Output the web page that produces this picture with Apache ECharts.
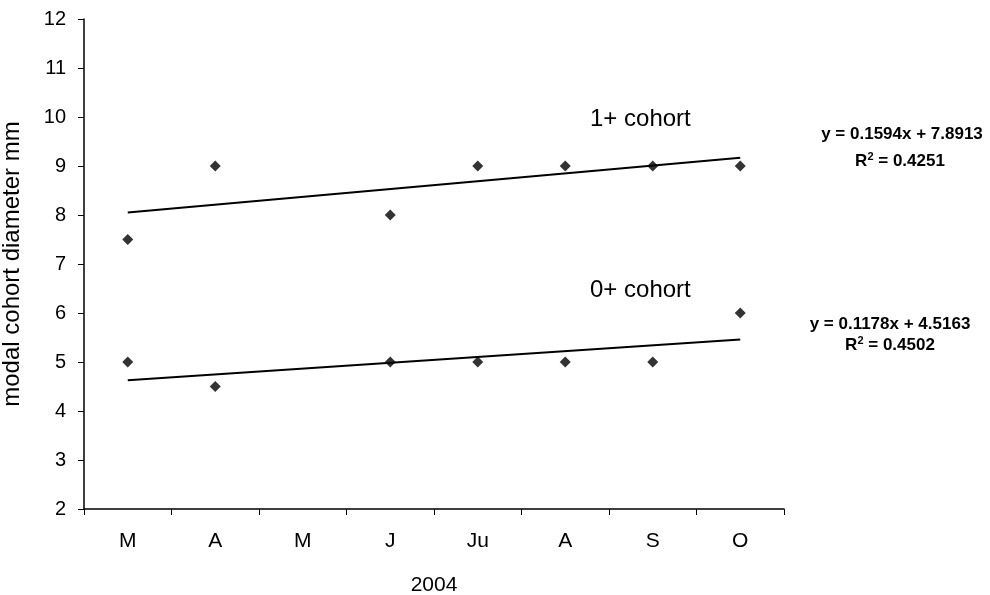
<!DOCTYPE html>
<html><head><meta charset="utf-8">
<script src="https://cdn.jsdelivr.net/npm/echarts@6/dist/echarts.min.js"></script>
<style>html,body{margin:0;padding:0;background:#fff}#c{width:990px;height:595px}</style>
</head><body><div id="c"></div>
<script>
const months = ['M','A','M','J','Ju','A','S','O'];
const cohort1 = [7.5, 9, null, 8, 9, 9, 9, 9];
const cohort0 = [5, 4.5, null, 5, 5, 5, 5, 6];
const trend1 = [[0, 8.05], [7, 9.17]];
const trend0 = [[0, 4.63], [7, 5.46]];
const yTicks = {min: 2, max: 12, interval: 1};
const eq1 = ['y = 0.1594x + 7.8913', 'R{s|2} = 0.4251'];
const eq0 = ['y = 0.1178x + 4.5163', 'R{s|2} = 0.4502'];

const FONT = 'Liberation Sans, Arial, sans-serif';
const chart = echarts.init(document.getElementById('c'));
const eqRich = {s: {fontSize: 11, fontWeight: 'bold', fontFamily: FONT, padding: [0,0,8,0]}};
chart.setOption({
  animation: false,
  backgroundColor: '#fff',
  grid: {left: 84, right: 206, top: 19, bottom: 86, containLabel: false, outerBoundsMode: 'none'},
  xAxis: {
    type: 'category', data: months, boundaryGap: true,
    name: '2004', nameLocation: 'middle', nameGap: 66,
    nameTextStyle: {color: '#000', fontSize: 21, fontFamily: FONT},
    axisLine: {lineStyle: {color: '#000', width: 1.5}},
    axisTick: {show: true, alignWithLabel: false, length: 6, lineStyle: {color: '#000'}},
    axisLabel: {color: '#000', fontSize: 21, fontFamily: FONT, margin: 22},
    splitLine: {show: false}
  },
  yAxis: {
    type: 'value', min: yTicks.min, max: yTicks.max, interval: yTicks.interval,
    name: 'modal cohort diameter mm', nameLocation: 'middle', nameGap: 60, nameRotate: 90,
    nameTextStyle: {color: '#000', fontSize: 24, fontFamily: FONT},
    axisLine: {show: true, lineStyle: {color: '#000', width: 1.5}},
    axisTick: {show: true, length: 6, lineStyle: {color: '#000'}},
    axisLabel: {color: '#000', fontSize: 20, fontFamily: FONT, margin: 18},
    splitLine: {show: false}
  },
  series: [
    {type: 'line', data: trend1, symbol: 'none', lineStyle: {color: '#000', width: 2}, silent: true},
    {type: 'line', data: trend0, symbol: 'none', lineStyle: {color: '#000', width: 2}, silent: true},
    {type: 'scatter', data: cohort1, symbol: 'diamond', symbolSize: 11, itemStyle: {color: '#000'}},
    {type: 'scatter', data: cohort0, symbol: 'diamond', symbolSize: 11, itemStyle: {color: '#000'}}
  ],
  graphic: [
    {type: 'text', x: 590, y: 119, style: {text: '1+ cohort', font: '24px ' + FONT, fill: '#000', verticalAlign: 'middle'}},
    {type: 'text', x: 590, y: 290, style: {text: '0+ cohort', font: '24px ' + FONT, fill: '#000', verticalAlign: 'middle'}},
    {type: 'text', x: 902, y: 134, style: {text: eq1[0], font: 'bold 17px ' + FONT, fill: '#000', align: 'center', verticalAlign: 'middle'}},
    {type: 'text', x: 900, y: 161, style: {text: eq1[1], font: 'bold 17px ' + FONT, fill: '#000', align: 'center', verticalAlign: 'middle', rich: eqRich}},
    {type: 'text', x: 890, y: 324, style: {text: eq0[0], font: 'bold 17px ' + FONT, fill: '#000', align: 'center', verticalAlign: 'middle'}},
    {type: 'text', x: 890, y: 345, style: {text: eq0[1], font: 'bold 17px ' + FONT, fill: '#000', align: 'center', verticalAlign: 'middle', rich: eqRich}}
  ]
});
</script></body></html>
